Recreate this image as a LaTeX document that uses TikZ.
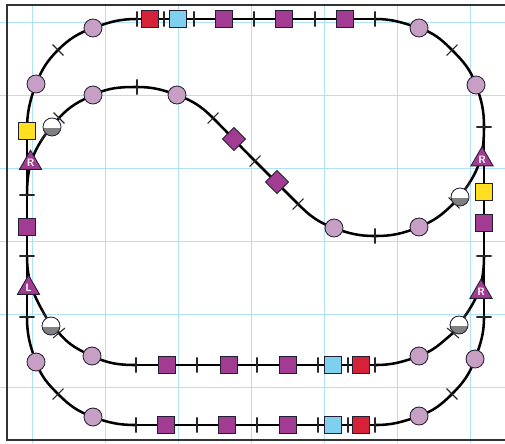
\documentclass[tikz,border=0pt]{standalone}
\usepackage{xcolor}
\usetikzlibrary{shapes.geometric,backgrounds}
\definecolor{stationpurple}{RGB}{162,59,146}
\definecolor{stationred}{RGB}{214,34,56}
\definecolor{stationblue}{RGB}{127,207,239}
\definecolor{stationyellow}{RGB}{255,224,32}
\definecolor{stopmauve}{RGB}{199,158,196}
\definecolor{gridblue}{RGB}{176,226,245}
\definecolor{edgegrey}{RGB}{35,31,50}
\tikzset{
  track/.style={line width=1.9pt, black},
  gridline/.style={gridblue, line width=0.65pt},
  framing/.style={black!80, line width=1.05pt},
  sleeper/.style={draw=black!85, line width=0.8pt, inner sep=0pt, minimum width=0pt,
                  minimum height=11.5pt},
  stopdot/.style={circle, draw=edgegrey, fill=stopmauve, line width=0.65pt,
                  inner sep=0pt, minimum size=13.5pt},
  halfdot/.style={circle, draw=edgegrey, fill=white, line width=0.65pt, inner sep=0pt,
                  minimum size=13.5pt, path picture={
                    \fill[black!50] ([yshift=-0.8pt]path picture bounding box.west)
                      rectangle (path picture bounding box.south east);}},
  stationbox/.style={rectangle, draw=edgegrey, fill=#1, line width=0.65pt,
                     inner sep=0pt, minimum size=12.8pt},
  gemnode/.style={diamond, draw=edgegrey, fill=stationpurple, line width=0.65pt,
                  inner sep=0pt, minimum size=17.5pt},
  pointnode/.style={regular polygon, regular polygon sides=3, draw=edgegrey,
                    fill=stationpurple, line width=0.65pt, inner sep=0pt, minimum size=19.2pt,
                    text=white, font=\sffamily\bfseries\footnotesize},
}
\begin{document}
\begin{tikzpicture}[x=0.75pt,y=-0.75pt]
  \useasboundingbox (0,0) rectangle (505,443);
  % sleepers: name/x/y/rotation
  \foreach \n/\x/\y/\r in {
    tka/137/19/0,tkb/164/19/0,tkc/194/19/0,tkd/254/19/0,tke/315/19/0,tkf/375/19/0,
    tkg/58/50/45,tkh/452/50/-45,tki/484/127/90,tkj/27/195/90,
    tkk/484/256/90,tkl/27/256/90,tkm/484/317/90,tkn/27/317/90,
    tko/58/394/-45,tkp/452/394/45,
    mka/136/365/0,mkb/197/365/0,mkc/257/365/0,mkd/318/365/0,mke/348/365/0,mkf/375/365/0,
    lka/136/425/0,lkb/197/425/0,lkc/257/425/0,lkd/318/425/0,lke/348/425/0,lkf/375/425/0,
    ika/137/87/0,ikb/213/118/-45,ikc/255/161/-45,ikd/298/204/-45,ike/375/236/0,
    hka/45/135/-35,hkb/59/118/45,hkc/466/188/-35,hkd/454/203/45,
    hke/46/317/30,hkf/59/333/-50,hkg/465/316/-30,hkh/453/333/50}
    \node[sleeper, rotate=\r] (\n) at (\x,\y) {};
  % round stops
  \foreach \n/\x/\y in {
    sta/93/28,stb/36/84,stc/93/95,std/177/95,ste/419/28,stf/476/85,
    stg/334/228,sth/419/227,sti/92/356,stj/36/362,stk/93/417,
    stl/419/356,stm/475/359,stn/419/416}
    \node[stopdot] (\n) at (\x,\y) {};
  % half filled stops
  \foreach \n/\x/\y in {hfa/52/127,hfb/460/197,hfc/51/326,hfd/459/325}
    \node[halfdot] (\n) at (\x,\y) {};
  % stations
  \foreach \n/\x/\y/\c in {
    tsa/150/19/stationred,tsb/178/19/stationblue,tsc/224/19/stationpurple,
    tsd/284/19/stationpurple,tse/345/19/stationpurple,
    yla/27/131/stationyellow,yra/484/192/stationyellow,
    pla/27/227/stationpurple,pra/484/223/stationpurple,
    msa/167/365/stationpurple,msb/229/365/stationpurple,msc/288/365/stationpurple,
    msd/333/365/stationblue,mse/361/365/stationred,
    lsa/166/425/stationpurple,lsb/227/425/stationpurple,lsc/288/425/stationpurple,
    lsd/333/425/stationblue,lse/361/425/stationred}
    \node[stationbox=\c] (\n) at (\x,\y) {};
  \node[gemnode] (gema) at (234,139) {};
  \node[gemnode] (gemb) at (277,182) {};
  % points
  \node[pointnode] (ptla) at (30.5,163) {R};
  \node[pointnode] (ptlb) at (28.5,288) {L};
  \node[pointnode] (ptra) at (482,159.5) {R};
  \node[pointnode] (ptrb) at (481,292) {R};
  \begin{pgfonlayer}{background}
    \foreach \x in {32,105,178,251,324,397,470}
      \draw[gridline] (\x,5) -- (\x,443);
    \foreach \y in {22,95,168,241,314,387}
      \draw[gridline] (0,\y) -- (505,\y);
    \draw[framing] (505,5) -- (7,5) -- (7,440) -- (505,440);
    % track pieces: from/to/out/in
    \foreach \a/\b/\o/\i in {
      tka/tkf/0/180,mka/mkf/0/180,lka/lkf/0/180,tki/tkm/-90/90,tkj/tkn/-90/90,yla/tkj/-90/90,
      yla/stb/90/-110,stb/tkg/68/225,tkg/sta/45/200,sta/tka/20/180,
      tkf/ste/0/162,ste/tkh/-18/135,tkh/stf/-45/110,stf/tki/-70/90,
      tkn/stj/-90/110,stj/tko/-70/135,tko/stk/-45/160,stk/lka/-20/180,
      lkf/stn/0/200,stn/tkp/20/225,tkp/stm/45/250,stm/tkm/70/-90,
      tkj/hka/90/235,hka/hkb/52/228,hkb/stc/48/205,stc/ika/25/180,ika/std/0/160,
      std/ikb/-20/135,ikb/ikc/-45/135,ikc/ikd/-45/135,ikd/stg/-45/160,stg/ike/-20/180,
      ike/sth/0/202,sth/hkd/22/225,hkd/hkc/45/235,hkc/tki/55/-90,
      tkl/hke/-90/120,hke/hkf/-60/130,hkf/sti/-50/155,sti/mka/-25/180,
      mkf/stl/0/200,stl/hkh/20/220,hkh/hkg/40/235,hkg/tkk/55/-90}
      \draw[track] (\a.center) to[out=\o,in=\i] (\b.center);
  \end{pgfonlayer}
\end{tikzpicture}
\end{document}
